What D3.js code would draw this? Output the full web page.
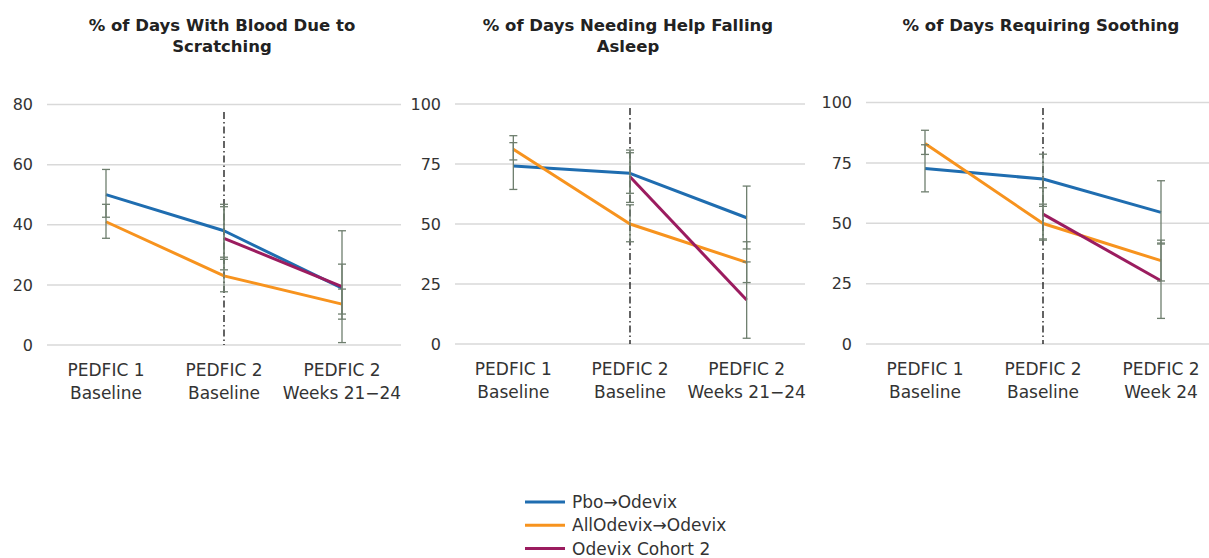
<!DOCTYPE html>
<html><head><meta charset="utf-8">
<script src="https://cdn.jsdelivr.net/npm/d3@7"></script>
<style>
body{margin:0;background:#fff;}
svg{display:block;}
</style></head>
<body><svg id="c" width="1209" height="558"></svg>
<script>
// ---------- DATA ----------
const seriesNames = ["Pbo\u2192Odevix", "AllOdevix\u2192Odevix", "Odevix Cohort 2"];
const titles = [["% of Days With Blood Due to", "Scratching"], ["% of Days Needing Help Falling", "Asleep"], ["% of Days Requiring Soothing"]];
const catsA = [["PEDFIC 1", "Baseline"], ["PEDFIC 2", "Baseline"], ["PEDFIC 2", "Weeks 21\u221224"]];
const catsB = [["PEDFIC 1", "Baseline"], ["PEDFIC 2", "Baseline"], ["PEDFIC 2", "Week 24"]];
const yTicks1 = [0, 20, 40, 60, 80];
const yTicks2 = [0, 25, 50, 75, 100];
const yTicks3 = [0, 25, 50, 75, 100];

// Panel 1: blood due to scratching
const blood_pbo = [50, 38, 18.9];
const blood_pbo_lo = [42.5, 29.2, 0.8];
const blood_pbo_hi = [58.4, 46.8, 38];
const blood_all = [41, 23, 13.6];
const blood_all_lo = [35.5, 17.7, 8.6];
const blood_all_hi = [46.8, 28.5, 18.6];
const blood_c2 = [null, 35.5, 19.4];
const blood_c2_lo = [null, 25, 10.3];
const blood_c2_hi = [null, 46, 26.9];

// Panel 2: help falling asleep
const sleep_pbo = [74.2, 71.1, 52.6];
const sleep_pbo_lo = [64.4, 62.8, 39.6];
const sleep_pbo_hi = [83.9, 80.8, 65.8];
const sleep_all = [81.1, 50, 34];
const sleep_all_lo = [76.7, 42.6, 25.6];
const sleep_all_hi = [86.8, 58, 42.6];
const sleep_c2 = [null, 69.7, 18.3];
const sleep_c2_lo = [null, 59, 2.4];
const sleep_c2_hi = [null, 79.7, 34.2];

// Panel 3: requiring soothing
const sooth_pbo = [72.7, 68.3, 54.5];
const sooth_pbo_lo = [63, 57.9, 41.4];
const sooth_pbo_hi = [82.5, 78.6, 67.6];
const sooth_all = [83, 49.9, 34.5];
const sooth_all_lo = [78.5, 43, 26.1];
const sooth_all_hi = [88.5, 57, 43];
const sooth_c2 = [null, 53.8, 26.2];
const sooth_c2_lo = [null, 43.5, 10.6];
const sooth_c2_hi = [null, 64.7, 41.8];

// ---------- LAYOUT ----------
const colors = ["#1f6db0", "#f7931e", "#9b1c5f"];
const errColor = "#6e7e6e";
const panels = [
  {title: titles[0], cats: catsA, ticks: yTicks1, ymax: 80, x0: 47, x1: 401, ytop: 104.5, ybot: 345, vtop: 112, tcx: 222,
   s: [[blood_pbo, blood_pbo_lo, blood_pbo_hi], [blood_all, blood_all_lo, blood_all_hi], [blood_c2, blood_c2_lo, blood_c2_hi]]},
  {title: titles[1], cats: catsA, ticks: yTicks2, ymax: 100, x0: 455, x1: 805, ytop: 104, ybot: 344, vtop: 108, tcx: 628,
   s: [[sleep_pbo, sleep_pbo_lo, sleep_pbo_hi], [sleep_all, sleep_all_lo, sleep_all_hi], [sleep_c2, sleep_c2_lo, sleep_c2_hi]]},
  {title: titles[2], cats: catsB, ticks: yTicks3, ymax: 100, x0: 866, x1: 1220, ytop: 102.5, ybot: 344, vtop: 108, tcx: 1041,
   s: [[sooth_pbo, sooth_pbo_lo, sooth_pbo_hi], [sooth_all, sooth_all_lo, sooth_all_hi], [sooth_c2, sooth_c2_lo, sooth_c2_hi]]}
];

const svg = d3.select("#c");
const tickFont = "'DejaVu Sans', Verdana, sans-serif";

panels.forEach((p, pi) => {
  const g = svg.append("g");
  const x = d3.scaleBand().domain(d3.range(p.cats.length)).range([p.x0, p.x1]).padding(0);
  const y = d3.scaleLinear().domain([0, p.ymax]).range([p.ybot, p.ytop]);
  const cx = i => x(i) + x.bandwidth() / 2;

  // title
  const t = g.append("text").attr("x", p.tcx).attr("y", 31).attr("text-anchor", "middle")
    .attr("font-family", "'DejaVu Sans', sans-serif")
    .attr("font-weight", "bold").attr("font-size", 16.5).attr("fill", "#222");
  p.title.forEach((ln, i) => t.append("tspan").attr("x", p.tcx).attr("dy", i ? 21 : 0).text(ln));

  // gridlines
  g.selectAll(".grid").data(p.ticks).join("line")
    .attr("x1", p.x0).attr("x2", p.x1).attr("y1", d => y(d)).attr("y2", d => y(d))
    .attr("stroke", "#d9d9d9").attr("stroke-width", 1.5);

  // y axis
  const ya = d3.axisLeft(y).tickValues(p.ticks).tickSize(0).tickPadding(14);
  const yg = g.append("g").attr("transform", `translate(${p.x0},0)`).call(ya);
  yg.select(".domain").remove();
  yg.selectAll("text").attr("font-family", tickFont).attr("font-size", 16).attr("fill", "#333");

  // x axis labels
  const xa = d3.axisBottom(x).tickSize(0).tickFormat(() => "");
  const xg = g.append("g").attr("transform", `translate(0,${p.ybot})`).call(xa);
  xg.select(".domain").remove();
  xg.selectAll(".tick").each(function(d) {
    const tx = d3.select(this).append("text").attr("text-anchor", "middle")
      .attr("font-family", tickFont).attr("font-size", 17).attr("fill", "#333");
    p.cats[d].forEach((ln, i) => tx.append("tspan").attr("x", 0).attr("y", 31 + i * 23).text(ln));
  });

  // vertical dash-dot line at PEDFIC 2 baseline
  g.append("line").attr("x1", cx(1)).attr("x2", cx(1)).attr("y1", p.vtop).attr("y2", p.ybot)
    .attr("stroke", "#111").attr("stroke-width", 1.3).attr("stroke-dasharray", "7,3,1.5,3");

  // lines
  const line = d3.line().defined(d => d.v != null).x(d => cx(d.i)).y(d => y(d.v));
  p.s.forEach((s, si) => {
    const pts = s[0].map((v, i) => ({i, v}));
    g.append("path").datum(pts).attr("d", line).attr("fill", "none")
      .attr("stroke", colors[si]).attr("stroke-width", 3).attr("stroke-linejoin", "round");
  });

  // error bars
  p.s.forEach((s, si) => {
    s[0].forEach((v, i) => {
      if (v == null) return;
      const lo = s[1][i], hi = s[2][i];
      const eg = g.append("g").attr("stroke", errColor).attr("stroke-width", 1.3);
      eg.append("line").attr("x1", cx(i)).attr("x2", cx(i)).attr("y1", y(lo)).attr("y2", y(hi));
      [lo, hi].forEach(e => eg.append("line").attr("x1", cx(i) - 4).attr("x2", cx(i) + 4).attr("y1", y(e)).attr("y2", y(e)));
    });
  });
});

// legend
const lg = svg.append("g");
seriesNames.forEach((n, i) => {
  const yy = 502 + i * 23.3;
  lg.append("line").attr("x1", 525).attr("x2", 565).attr("y1", yy).attr("y2", yy)
    .attr("stroke", colors[i]).attr("stroke-width", 3);
  lg.append("text").attr("x", 572).attr("y", yy + 6).attr("font-family", tickFont)
    .attr("font-size", 17).attr("fill", "#333").text(n);
});
</script>
</body></html>
